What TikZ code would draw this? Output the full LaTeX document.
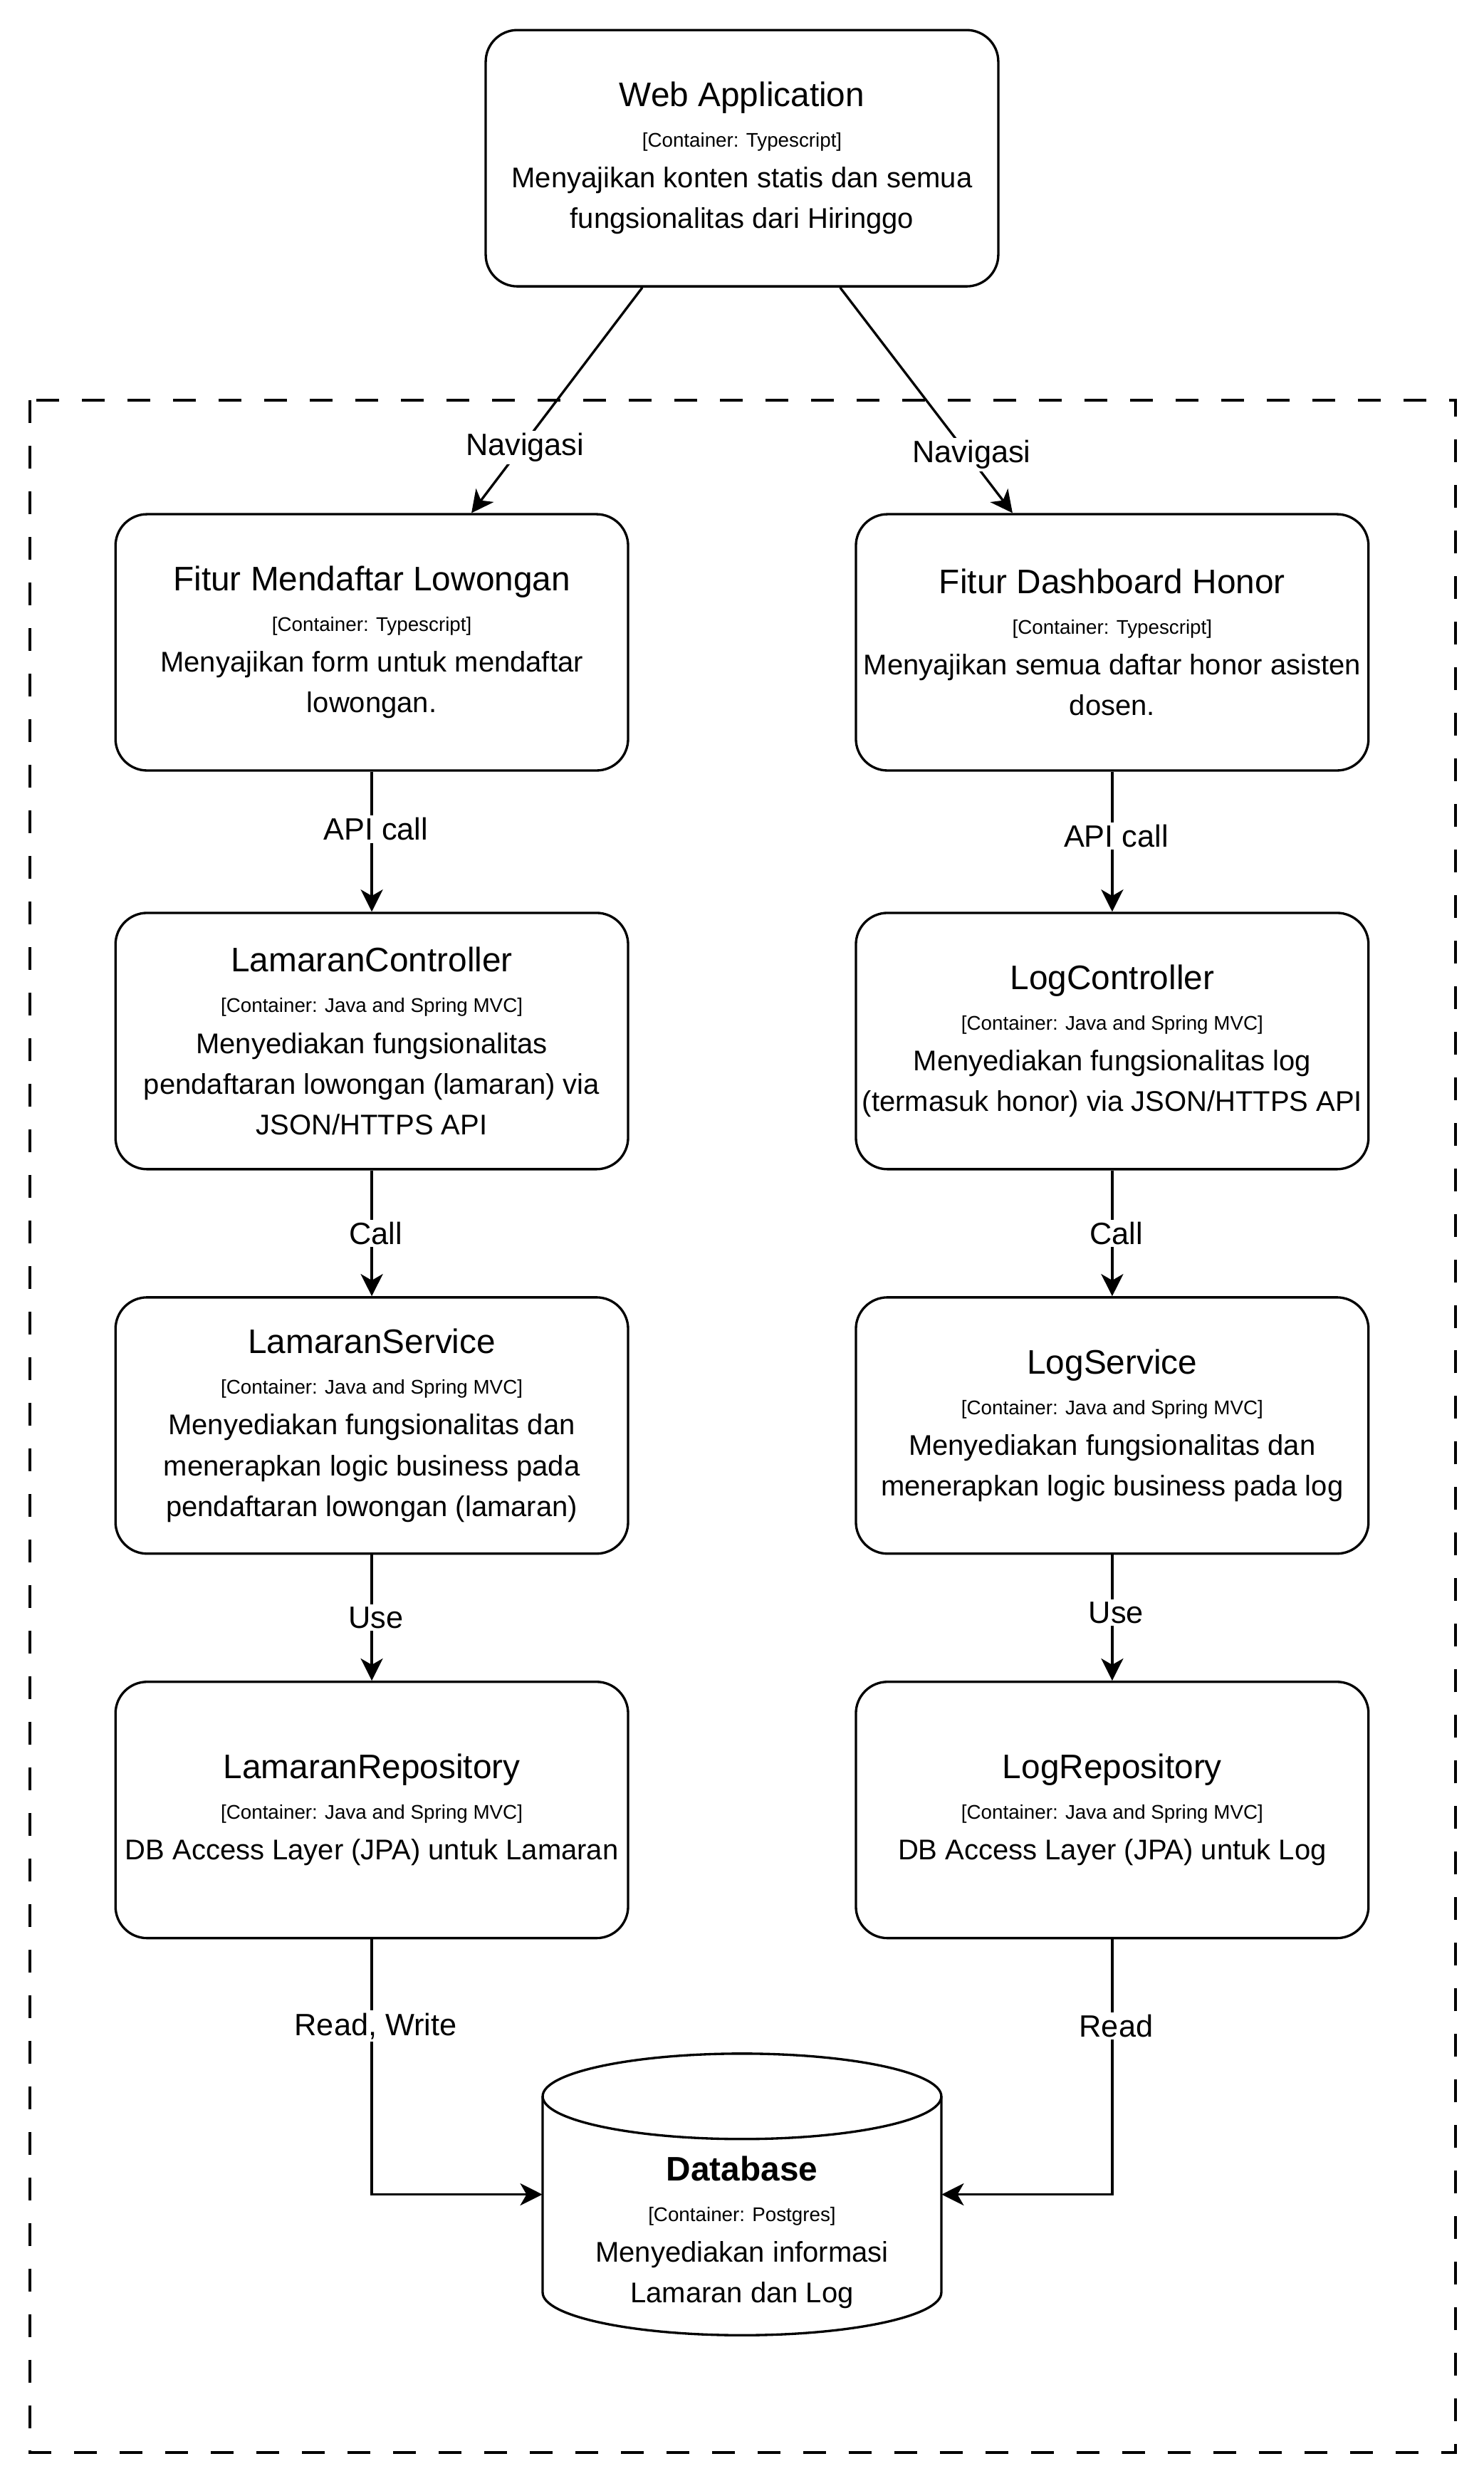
\documentclass[tikz,border=0pt]{standalone}
\usepackage{fontspec}
\setmainfont{Liberation Sans}
\usetikzlibrary{arrows.meta}

\newcommand{\boxtitle}[1]{{\fontsize{21.5}{25.7}\selectfont #1}}
\newcommand{\boxtech}[1]{{\fontsize{12.5}{25.7}\selectfont [Container: #1]}}

\tikzset{
  cbox/.style={draw, line width=1.5pt, rounded corners=20pt, minimum width=324pt,
    minimum height=162pt, align=center, inner sep=2pt, font=\fontsize{18}{25.7}\selectfont},
  dbbox/.style={minimum width=252pt, minimum height=178pt, inner sep=0pt},
  dbtext/.style={align=center, inner sep=2pt, font=\fontsize{18}{25.7}\selectfont},
  frame/.style={line width=1.8pt, dash pattern=on 14.4pt off 14.4pt},
  link/.style={line width=1.5pt, -{Stealth[length=14pt,width=14pt,inset=4pt]}},
  lbl/.style={fill=white, inner sep=1.5pt, xshift=2.5pt, font=\fontsize{19.5}{22}\selectfont},
}

\begin{document}
\begin{tikzpicture}[x=1pt,y=-1pt]
\useasboundingbox (0,0) rectangle (938,1568.15);
% boundary
\draw[frame] (19,253) rectangle (920,1550);

% containers
\node[cbox] (web) at (469,100) {\boxtitle{Web Application}\\\boxtech{Typescript}\\Menyajikan konten statis dan semua\\fungsionalitas dari Hiringgo};
\node[cbox] (daftar) at (235,406) {\boxtitle{Fitur Mendaftar Lowongan}\\\boxtech{Typescript}\\Menyajikan form untuk mendaftar\\lowongan.};
\node[cbox] (honor) at (703,406) {\boxtitle{Fitur Dashboard Honor}\\\boxtech{Typescript}\\Menyajikan semua daftar honor asisten\\dosen.};
\node[cbox] (lctrl) at (235,658) {\boxtitle{LamaranController}\\\boxtech{Java and Spring MVC}\\Menyediakan fungsionalitas\\pendaftaran lowongan (lamaran) via\\JSON/HTTPS API};
\node[cbox] (gctrl) at (703,658) {\boxtitle{LogController}\\\boxtech{Java and Spring MVC}\\Menyediakan fungsionalitas log\\(termasuk honor) via JSON/HTTPS API};
\node[cbox] (lsvc) at (235,901) {\boxtitle{LamaranService}\\\boxtech{Java and Spring MVC}\\Menyediakan fungsionalitas dan\\menerapkan logic business pada\\pendaftaran lowongan (lamaran)};
\node[cbox] (gsvc) at (703,901) {\boxtitle{LogService}\\\boxtech{Java and Spring MVC}\\Menyediakan fungsionalitas dan\\menerapkan logic business pada log};
\node[cbox] (lrepo) at (235,1144) {\boxtitle{LamaranRepository}\\\boxtech{Java and Spring MVC}\\DB Access Layer (JPA) untuk Lamaran};
\node[cbox] (grepo) at (703,1144) {\boxtitle{LogRepository}\\\boxtech{Java and Spring MVC}\\DB Access Layer (JPA) untuk Log};

% database
\node[dbbox] (db) at (469,1387) {};
\draw[line width=1.5pt] (469,1325) ellipse [x radius=126, y radius=27];
\draw[line width=1.5pt] (343,1325) -- (343,1449) arc[start angle=180, end angle=0, x radius=126, y radius=27] -- (595,1325);
\node[dbtext] (dbt) at (469,1411) {\boxtitle{\bfseries Database}\\\boxtech{Postgres}\\Menyediakan informasi\\Lamaran dan Log};

% links
\draw[link] ([xshift=-63pt]web.south) -- node[lbl, pos=0.71] {Navigasi} ([xshift=63pt]daftar.north);
\draw[link] ([xshift=62pt]web.south) -- node[lbl, pos=0.74] {Navigasi} ([xshift=-63pt]honor.north);
\draw[link] (daftar) -- node[lbl, pos=0.41] {API call} (lctrl);
\draw[link] (honor) -- node[lbl, pos=0.46] {API call} (gctrl);
\draw[link] (lctrl) -- node[lbl] {Call} (lsvc);
\draw[link] (gctrl) -- node[lbl] {Call} (gsvc);
\draw[link] (lsvc) -- node[lbl] {Use} (lrepo);
\draw[link] (gsvc) -- node[lbl, pos=0.46] {Use} (grepo);
\draw[link] (lrepo) |- node[lbl, pos=0.17] {Read, Write} (db.west);
\draw[link] (grepo) |- node[lbl, pos=0.17] {Read} (db.east);
\end{tikzpicture}
\end{document}
